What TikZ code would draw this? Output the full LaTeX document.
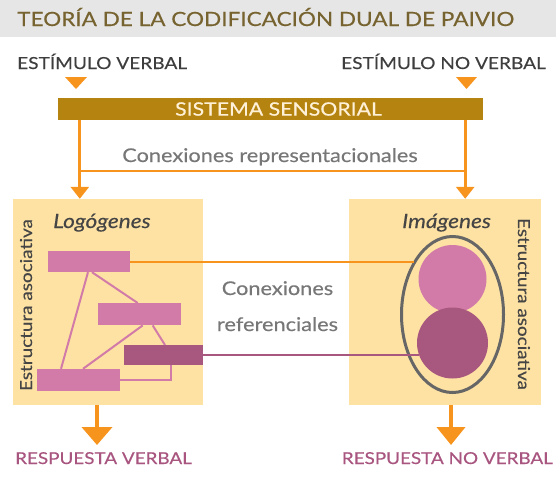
\documentclass[tikz,border=0pt]{standalone}
\usepackage{fontspec}
\setmainfont{Lato}[FakeStretch=1.15,FakeBold=0.35]
\usetikzlibrary{arrows.meta,shapes.geometric,calc}
\definecolor{band}{HTML}{E6E6E6}
\definecolor{titlec}{HTML}{76632F}
\definecolor{stimc}{HTML}{3E3E3E}
\definecolor{orangec}{HTML}{F7941D}
\definecolor{barc}{HTML}{B5830F}
\definecolor{bartxt}{HTML}{FFF1D8}
\definecolor{boxc}{HTML}{FDE2A4}
\definecolor{pinkc}{HTML}{D27BA8}
\definecolor{darkpink}{HTML}{A8577F}
\definecolor{ellc}{HTML}{666666}
\definecolor{connc}{HTML}{777777}
\definecolor{respc}{HTML}{A8557F}
\definecolor{labc}{HTML}{454545}
\pgfdeclarelayer{boxes}
\pgfdeclarelayer{links}
\pgfsetlayers{boxes,links,main}
\tikzset{
  titletext/.style={font=\fontsize{19.6}{22}\selectfont, text=titlec, inner sep=0},
  stimtext/.style={font=\fontsize{16.6}{19}\selectfont, text=stimc, inner sep=0},
  resptext/.style={font=\fontsize{16.4}{19}\selectfont, text=respc, inner sep=0},
  conntext/.style={font=\fontsize{18.9}{21}\selectfont, text=connc, inner sep=0},
  labtext/.style={font=\fontsize{19.7}{22}\selectfont\itshape, text=labc, inner sep=0},
  esttext/.style={font=\fontsize{16.4}{19}\selectfont, text=labc, inner sep=0},
  barbox/.style={fill=barc, inner sep=0, minimum width=425pt, minimum height=22pt},
  bartext/.style={font=\fontsize{18.5}{20}\selectfont, text=bartxt, inner sep=0},
  panel/.style={fill=boxc, inner sep=0, minimum height=206pt},
  wordbox/.style={fill=pinkc, inner sep=0, minimum width=82pt, minimum height=21pt},
  wordboxdark/.style={fill=darkpink, inner sep=0, minimum width=79pt, minimum height=20pt},
  oline/.style={draw=orangec, line width=3pt},
  pline/.style={draw=pinkc, line width=2pt},
  dline/.style={draw=darkpink, line width=2.2pt},
  tri/.style={fill=orangec},
}
\begin{document}
\begin{tikzpicture}[x=1pt,y=-1pt]
\useasboundingbox (0,0) rectangle (556,480);
\fill[band] (0,0) rectangle (556,37);
\node[titletext, anchor=base west] (title) at (17,26) {TEORÍA DE LA CODIFICACIÓN DUAL DE PAIVIO};

\node[stimtext, anchor=base west] (sv) at (17,69) {ESTÍMULO VERBAL};
\node[stimtext, anchor=base east] (snv) at (546,69) {ESTÍMULO NO VERBAL};
\fill[tri] (65,77) -- (87,77) -- (76,89) -- cycle;
\fill[tri] (456,77) -- (477,77) -- (466.5,89) -- cycle;

\node[barbox] (ss) at (270.5,109) {};
\node[bartext] (sst) at (278.5,109) {SISTEMA SENSORIAL};

\begin{pgfonlayer}{boxes}
\node[panel, minimum width=190pt] (lb) at (108,302) {};
\node[panel, minimum width=192pt] (rb) at (445,302) {};
\end{pgfonlayer}

% representational connections
\coordinate (la) at ([xshift=22pt]ss.south west);
\coordinate (ra) at ([xshift=-18pt]ss.south east);
\draw[oline, -{Triangle[width=18pt,length=12pt]}] (la) -- (la |- lb.north);
\draw[oline, -{Triangle[width=18pt,length=12pt]}] (ra) -- (ra |- rb.north);
\coordinate (hl) at (80,171);
\coordinate (hr) at (465,171);
\draw[draw=orangec, line width=2.5pt] (hl) -- (hr);
\node[conntext, anchor=base] (crep) at (270,162) {Conexiones representacionales};

% labels
\node[labtext, anchor=base west] (logo) at (53,228) {Logógenes};
\node[labtext, anchor=base west] (imag) at (402,228) {Imágenes};
\node[esttext, rotate=90, anchor=base] (estl) at (32,305) {Estructura asociativa};
\node[esttext, rotate=-90, anchor=base] (estr) at (518,304) {Estructura asociativa};

% logogens
\node[wordbox] (r1) at (89,261.5) {};
\node[wordbox, minimum width=83pt, minimum height=22pt] (r2) at (139.7,314.2) {};
\node[wordboxdark] (r3) at (163.4,355) {};
\node[wordbox, minimum width=83pt, minimum height=22pt] (r4) at (78,380) {};

\begin{pgfonlayer}{links}
\draw[pline] ([xshift=-1pt]r1.south) -- ([xshift=-17pt]r4.north);
\draw[pline] ([xshift=3pt]r1.south) -- ([xshift=-2pt]r2.north);
\draw[pline] ([xshift=3pt]r2.south) -- ([xshift=5pt]r4.north);
\draw[pline] ([xshift=13pt]r2.south) -- (165,345);
\draw[pline] ([xshift=8pt]r3.south) |- (r4.east);
\end{pgfonlayer}

% images
\node[ellipse, draw=ellc, line width=3pt, minimum width=102pt, minimum height=156pt, inner sep=0] (ell) at (452.5,314.5) {};
\node[circle, fill=pinkc, minimum size=68pt, inner sep=0] (c1) at (452.5,279) {};
\node[circle, fill=darkpink, minimum size=71pt, inner sep=0] (c2) at (452.5,343) {};

\coordinate (ehit) at (414,261.5);
\draw[draw=orangec, line width=2pt] (r1.east) -- (ehit);
\coordinate (chit) at (419,355);
\draw[dline] (r3.east) -- (chit);

\node[conntext, anchor=base] (cref1) at (277.5,295) {Conexiones};
\node[conntext, anchor=base] (cref2) at (277.5,331) {referenciales};

% responses
\coordinate (lo) at ([xshift=-11pt]lb.south);
\coordinate (ro) at ([xshift=6pt]rb.south);
\node[resptext, anchor=base west] (rv) at (15,464) {RESPUESTA VERBAL};
\node[resptext, anchor=base east] (rnv) at (553,464) {RESPUESTA NO VERBAL};
\draw[oline, line width=4pt, -{Triangle[width=30pt,length=18pt]}] (lo) -- (lo |- 0,445);
\draw[oline, line width=4pt, -{Triangle[width=28pt,length=18pt]}] (ro) -- (ro |- 0,445);
\end{tikzpicture}
\end{document}
